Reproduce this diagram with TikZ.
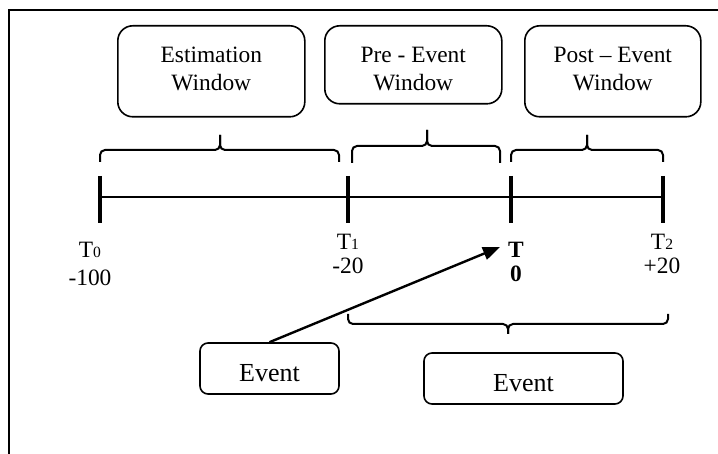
\documentclass[tikz,border=0pt]{standalone}
\usepackage{fontspec}
\setmainfont{Liberation Serif}
\usetikzlibrary{positioning,arrows.meta}
\tikzset{
  winbox/.style={draw, rounded corners=7.5pt, line width=0.8pt, anchor=north west, inner sep=0pt},
  wintext/.style={align=center, inner sep=0pt, font=\fontsize{11.7}{13.8}\selectfont},
  evbox/.style={draw, rounded corners=4pt, line width=0.8pt, minimum height=25.5pt,
                text height=13.5pt, text depth=0pt, font=\fontsize{13}{15}\selectfont},
  timeline/.style={line width=1pt},
  tickmark/.style={line width=1.8pt},
  winbrace/.style={line width=1pt, rounded corners=2.5pt},
  ticklabel/.style={align=center, anchor=north, inner sep=0pt, font=\fontsize{11.7}{12}\selectfont},
  pointer/.style={-{Triangle[length=8.5pt,width=6.5pt]}, line width=1.2pt},
  frame/.style={line width=1.4pt},
}
\newcommand{\tsub}[1]{{\fontsize{7.8}{8}\selectfont #1}}

\begin{document}
\begin{tikzpicture}[x=0.5pt, y=-0.5pt]
  \useasboundingbox (0,0) rectangle (718,454);
  \draw[frame] (9,454) |- (718,10);

  % the three windows
  \node[winbox, minimum width=93.5pt, minimum height=45.5pt] (est) at (117,25) {};
  \node[winbox, minimum width=88.5pt, minimum height=39pt] (pre) at (324,25) {};
  \node[winbox, minimum width=88pt, minimum height=45.5pt] (post) at (524,25) {};
  \node[wintext, below=11pt of est.north] (estText) {Estimation\\Window};
  \node[wintext, below=11pt of pre.north] (preText) {Pre - Event\\Window};
  \node[wintext, below=11pt of post.north] (postText) {Post -- Event\\Window};

  % braces over the windows
  \draw[winbrace] (100,162) |- (220,150) -- (220,135);
  \draw[winbrace] (339,162) |- (220,150) -- (220,135);
  \draw[winbrace] (352,163) |- (427,146) -- (427,130);
  \draw[winbrace] (500,163) |- (427,146) -- (427,130);
  \draw[winbrace] (511,162) |- (587,150) -- (587,135);
  \draw[winbrace] (663,162) |- (587,150) -- (587,135);

  % time line
  \coordinate (t0) at (100,197);
  \coordinate (t1) at (348,197);
  \coordinate (tev) at (511,197);
  \coordinate (t2) at (663,197);
  \draw[timeline] (t0) -- (t2);
  \foreach \t in {t0,t1,tev,t2}
    \draw[tickmark] ([yshift=10.5pt]\t) -- ([yshift=-13pt]\t);

  \node[ticklabel] (lblT0) at (90,242) {T\tsub{0}\\[2pt]-100};
  \node[ticklabel] (lblT1) at (348,234) {T\tsub{1}\\-20};
  \node[ticklabel, font=\bfseries\fontsize{11.7}{12}\selectfont] (lblT) at (516,242) {T\\0};
  \node[ticklabel] (lblT2) at (662,234) {T\tsub{2}\\+20};

  % brace under the event window
  \draw[winbrace] (348,314) |- (508,324) -- (508,334);
  \draw[winbrace] (668,314) |- (508,324) -- (508,334);

  % events
  \node[evbox, minimum width=69.5pt] (ev1) at (269.5,368.5) {Event};
  \node[evbox, minimum width=99.5pt] (ev2) at (523.5,378.5) {Event};
  \coordinate (evTip) at (500,247);
  \draw[pointer] (ev1.north) -- (evTip);
\end{tikzpicture}
\end{document}
